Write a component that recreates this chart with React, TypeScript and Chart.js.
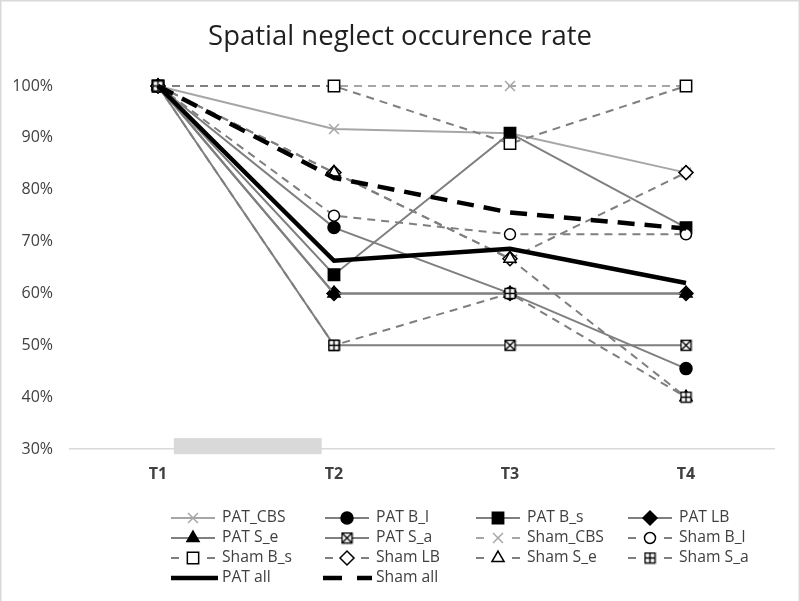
import React, { useEffect, useRef } from 'react';
import { Chart, registerables } from 'chart.js';
import { drawPoint } from 'chart.js/helpers';

Chart.register(...registerables);

// ---------- data ----------
const timepoints = ['T1', 'T2', 'T3', 'T4'];

const patCBS = [100, 91.7, 90.9, 83.3];
const patBl = [100, 72.7, 60, 45.5];
const patBs = [100, 63.6, 90.9, 72.7];
const patLB = [100, 60, 60, 60];
const patSe = [100, 60, 60, 60];
const patSa = [100, 50, 50, 50];
const shamCBS = [100, 100, 100, 100];
const shamBl = [100, 75, 71.4, 71.4];
const shamBs = [100, 100, 88.9, 100];
const shamLB = [100, 83.3, 66.7, 83.3];
const shamSe = [100, 83.3, 66.7, 40];
const shamSa = [100, 50, 60, 40];
const patAll = [100, 66.3, 68.6, 62.0];
const shamAll = [100, 82.3, 75.6, 72.5];

const yMin = 30;
const yMax = 100;
const yStep = 10;

// grey band below the T1–T2 segment (category index / percent units)
const bandFrom = 0.09;
const bandTo = 0.93;
const bandLow = 29.0;
const bandHigh = 32.1;

const titleText = 'Spatial neglect occurence rate';

const FONT = "'Open Sans', 'Noto Sans', sans-serif";
const GREY = '#7f7f7f';
const LIGHT = '#a6a6a6';

function makeBoxMarker(kind: 'x' | 'plus'): HTMLCanvasElement {
  const c = document.createElement('canvas');
  c.width = 13;
  c.height = 13;
  const g = c.getContext('2d')!;
  g.fillStyle = '#ffffff';
  g.fillRect(1, 1, 11, 11);
  g.strokeStyle = '#000000';
  g.lineWidth = 1.4;
  g.strokeRect(1.5, 1.5, 10, 10);
  g.beginPath();
  if (kind === 'x') {
    g.moveTo(2, 2);
    g.lineTo(11, 11);
    g.moveTo(11, 2);
    g.lineTo(2, 11);
  } else {
    g.moveTo(6.5, 2);
    g.lineTo(6.5, 11);
    g.moveTo(2, 6.5);
    g.lineTo(11, 6.5);
  }
  g.stroke();
  return c;
}

type Kind = 'pat' | 'sham' | 'patAll' | 'shamAll';

export default function App() {
  const ref = useRef<HTMLCanvasElement | null>(null);

  useEffect(() => {
    if (!ref.current) return;
    const xMark = makeBoxMarker('x');
    const plusMark = makeBoxMarker('plus');

    const specs: Array<{ label: string; data: number[]; kind: Kind; color: string; style: any; fill: string; border: string; radius: number }> = [
      { label: 'PAT_CBS', data: patCBS, kind: 'pat', color: LIGHT, style: 'crossRot', fill: LIGHT, border: LIGHT, radius: 7 },
      { label: 'PAT B_l', data: patBl, kind: 'pat', color: GREY, style: 'circle', fill: '#000', border: '#000', radius: 6 },
      { label: 'PAT B_s', data: patBs, kind: 'pat', color: GREY, style: 'rect', fill: '#000', border: '#000', radius: 8 },
      { label: 'PAT LB', data: patLB, kind: 'pat', color: GREY, style: 'rectRot', fill: '#000', border: '#000', radius: 7 },
      { label: 'PAT S_e', data: patSe, kind: 'pat', color: GREY, style: 'triangle', fill: '#000', border: '#000', radius: 7 },
      { label: 'PAT S_a', data: patSa, kind: 'pat', color: GREY, style: xMark, fill: '#000', border: '#000', radius: 6 },
      { label: 'Sham_CBS', data: shamCBS, kind: 'sham', color: LIGHT, style: 'crossRot', fill: LIGHT, border: LIGHT, radius: 7 },
      { label: 'Sham B_l', data: shamBl, kind: 'sham', color: GREY, style: 'circle', fill: '#fff', border: '#000', radius: 5.5 },
      { label: 'Sham B_s', data: shamBs, kind: 'sham', color: GREY, style: 'rect', fill: '#fff', border: '#000', radius: 8 },
      { label: 'Sham LB', data: shamLB, kind: 'sham', color: GREY, style: 'rectRot', fill: '#fff', border: '#000', radius: 7 },
      { label: 'Sham S_e', data: shamSe, kind: 'sham', color: GREY, style: 'triangle', fill: '#fff', border: '#000', radius: 7 },
      { label: 'Sham S_a', data: shamSa, kind: 'sham', color: GREY, style: plusMark, fill: '#fff', border: '#000', radius: 6 },
      { label: 'PAT all', data: patAll, kind: 'patAll', color: '#000', style: false, fill: '#000', border: '#000', radius: 0 },
      { label: 'Sham all', data: shamAll, kind: 'shamAll', color: '#000', style: false, fill: '#000', border: '#000', radius: 0 },
    ];

    const n = specs.length;
    const datasets = specs.map((s, i) => ({
      label: s.label,
      data: s.data,
      borderColor: s.color,
      borderWidth: s.kind === 'patAll' || s.kind === 'shamAll' ? 4.5 : 2,
      borderDash: s.kind === 'sham' ? [8, 6] : s.kind === 'shamAll' ? [17, 10] : [],
      pointStyle: s.style,
      pointRadius: s.radius,
      pointBackgroundColor: s.fill,
      pointBorderColor: s.border,
      pointBorderWidth: 1.5,
      tension: 0,
      clip: false as const,
      order: n - i,
      _kind: s.kind,
    }));

    const framePlugin = {
      id: 'frame',
      beforeDatasetsDraw(chart: any) {
        const { ctx, scales } = chart;
        const x = scales.x;
        const y = scales.y;
        const step = x.getPixelForValue(1) - x.getPixelForValue(0);
        const x0 = x.getPixelForValue(0) + bandFrom * step;
        const x1 = x.getPixelForValue(0) + bandTo * step;
        const y0 = y.getPixelForValue(bandHigh);
        const y1 = y.getPixelForValue(bandLow);
        ctx.save();
        ctx.fillStyle = '#d9d9d9';
        ctx.fillRect(x0, y0, x1 - x0, y1 - y0);
        ctx.restore();
      },
      afterDraw(chart: any) {
        const { ctx, width, height } = chart;
        ctx.save();
        ctx.strokeStyle = '#d9d9d9';
        ctx.lineWidth = 1.5;
        ctx.beginPath();
        ctx.moveTo(0.75, height);
        ctx.lineTo(0.75, 0.75);
        ctx.lineTo(width - 0.75, 0.75);
        ctx.lineTo(width - 0.75, height);
        ctx.stroke();

        // legend in 4 columns
        const cols = [193, 347, 498, 650];
        const rows = [518, 538, 558, 578];
        chart.data.datasets.forEach((ds: any, i: number) => {
          const cx = cols[i % 4];
          const cy = rows[Math.floor(i / 4)];
          const kind: Kind = ds._kind;
          ctx.save();
          ctx.strokeStyle = ds.borderColor;
          ctx.lineWidth = ds.borderWidth;
          ctx.lineCap = 'butt';
          ctx.beginPath();
          if (kind === 'pat') {
            ctx.moveTo(cx - 22, cy);
            ctx.lineTo(cx + 22, cy);
          } else if (kind === 'sham') {
            ctx.moveTo(cx - 22, cy);
            ctx.lineTo(cx - 14, cy);
            ctx.moveTo(cx + 14, cy);
            ctx.lineTo(cx + 22, cy);
          } else if (kind === 'patAll') {
            ctx.moveTo(cx - 22, cy);
            ctx.lineTo(cx + 25, cy);
          } else {
            ctx.moveTo(cx - 24, cy);
            ctx.lineTo(cx - 5, cy);
            ctx.moveTo(cx + 10, cy);
            ctx.lineTo(cx + 25, cy);
          }
          ctx.stroke();
          ctx.restore();
          if (ds.pointStyle) {
            ctx.save();
            ctx.fillStyle = ds.pointBackgroundColor;
            ctx.strokeStyle = ds.pointBorderColor;
            ctx.lineWidth = ds.pointBorderWidth;
            drawPoint(ctx, { pointStyle: ds.pointStyle, radius: ds.pointRadius, rotation: 0, borderWidth: ds.pointBorderWidth } as any, cx, cy);
            ctx.restore();
          }
          ctx.save();
          ctx.fillStyle = '#404040';
          ctx.font = `15.7px ${FONT}`;
          ctx.textAlign = 'left';
          ctx.textBaseline = 'middle';
          ctx.fillText(ds.label, cx + 29, cy);
          ctx.restore();
        });
        ctx.restore();
      },
    };

    const chart = new Chart(ref.current, {
      type: 'line',
      data: { labels: timepoints, datasets: datasets as any },
      options: {
        responsive: false,
        animation: false,
        layout: { padding: { left: 0, right: 0, top: 0, bottom: 112 } },
        plugins: {
          legend: { display: false },
          tooltip: { enabled: false },
          title: {
            display: true,
            text: titleText,
            color: '#1f1f1f',
            font: { family: FONT, size: 27.5, weight: 'normal' },
            padding: { top: 21, bottom: 32 },
          },
        },
        scales: {
          x: {
            type: 'category',
            offset: true,
            grid: { display: false, drawTicks: false },
            border: { display: true, color: '#d9d9d9', width: 1.5 },
            ticks: { color: '#404040', font: { family: FONT, size: 16, weight: 'bold' }, padding: 16 },
            afterFit: (s: any) => { s.height = 40; },
          },
          y: {
            type: 'linear',
            min: yMin,
            max: yMax,
            grid: { display: false, drawTicks: false },
            border: { display: false },
            ticks: {
              stepSize: yStep,
              color: '#404040',
              font: { family: FONT, size: 16 },
              padding: 17,
              callback: (v: any) => `${v}%`,
            },
            afterFit: (s: any) => { s.width = 70; },
          },
          yR: {
            type: 'linear',
            position: 'right',
            display: true,
            grid: { display: false, drawTicks: false },
            border: { display: false },
            ticks: { display: false },
            afterFit: (s: any) => { s.width = 26; },
          },
        },
      },
      plugins: [framePlugin],
    });
    return () => chart.destroy();
  }, []);

  return (
    <div style={{ position: 'absolute', left: 0, top: 0, width: 800, height: 601, background: '#fff' }}>
      <canvas ref={ref} width={800} height={601} style={{ display: 'block' }} />
    </div>
  );
}
